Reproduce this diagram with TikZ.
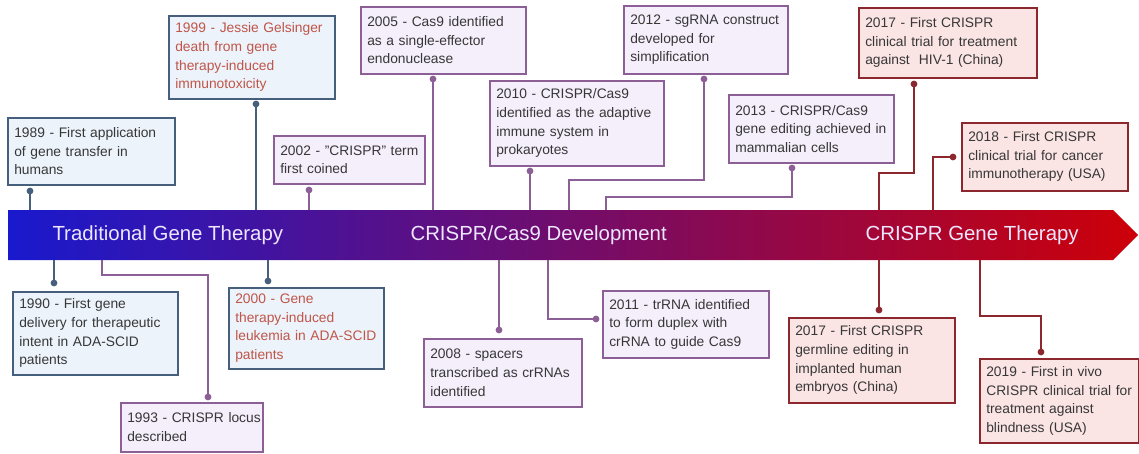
\documentclass[tikz,border=0pt]{standalone}
\usepackage{fontspec}
\setmainfont{Liberation Sans}
\definecolor{bfill}{RGB}{236,243,251}
\definecolor{bline}{RGB}{70,95,125}
\definecolor{pfill}{RGB}{245,238,251}
\definecolor{pline}{RGB}{140,95,150}
\definecolor{rfill}{RGB}{251,228,228}
\definecolor{rline}{RGB}{140,40,45}
\definecolor{redtxt}{RGB}{192,85,72}
\definecolor{txt}{RGB}{55,55,55}
\definecolor{bartxt}{RGB}{238,230,255}
\definecolor{gleft}{RGB}{25,25,205}
\definecolor{gmid}{RGB}{118,35,152}
\definecolor{gright}{RGB}{205,0,8}
\tikzset{
  evbox/.style={draw, line width=1.6pt, rectangle, inner xsep=6.5pt, inner ysep=4pt,
    anchor=north west, align=left, text=txt,
    font=\fontsize{13.8}{18.6}\selectfont},
  bluebox/.style={evbox, fill=bfill, draw=bline},
  purplebox/.style={evbox, fill=pfill, draw=pline},
  redbox/.style={evbox, fill=rfill, draw=rline},
  sz/.code 2 args={\pgfmathsetlengthmacro\mytw{#1pt-13pt}%
    \tikzset{minimum width=#1pt, minimum height=#2pt, text width=\mytw}},
  bcon/.style={draw=bline, line width=1.7pt},
  pcon/.style={draw=pline, line width=1.7pt},
  rcon/.style={draw=rline, line width=1.7pt},
  bartitle/.style={text=bartxt, font=\fontsize{20.4}{24}\selectfont, anchor=west},
}
\begin{document}
\begin{tikzpicture}[x=1pt,y=-1pt]
\useasboundingbox (0,0) rectangle (1139,453);
\fill[white] (0,0) rectangle (1139,453);
% timeline bar
\shade[left color=gleft, middle color=gmid, right color=gright]
  (8,210) -- (1113,210) -- (1138,235) -- (1113,260) -- (8,260) -- cycle;
\coordinate (bartop) at (0,210);
\coordinate (barbot) at (0,260);
\node[bartitle] (t1) at (49,235) {Traditional Gene Therapy};
\node[bartitle] (t2) at (407,235) {CRISPR/Cas9 Development};
\node[bartitle] (t3) at (862,235) {CRISPR Gene Therapy};

% top boxes
\node[bluebox, sz={167}{67}] (e1989) at (7,117) {\mbox{1989 - First application}\\of gene transfer in\\humans};
\node[bluebox, sz={166}{83}, text=redtxt] (e1999) at (168,15) {\mbox{1999 - Jessie Gelsinger}\\death from gene\\therapy-induced\\immunotoxicity};
\node[purplebox, sz={151}{48}] (e2002) at (273,135) {\mbox{2002 - "CRISPR" term}\\first coined};
\node[purplebox, sz={165}{67}] (e2005) at (360,6) {\mbox{2005 - Cas9 identified}\\as a single-effector\\endonuclease};
\node[purplebox, sz={174}{85}] (e2010) at (489,80) {2010 - CRISPR/Cas9\\\mbox{identified as the adaptive}\\immune system in\\prokaryotes};
\node[purplebox, sz={164}{68}] (e2012) at (623,5) {\mbox{2012 - sgRNA construct}\\developed for\\simplification};
\node[purplebox, sz={165}{68}] (e2013) at (728,94) {2013 - CRISPR/Cas9\\\mbox{gene editing achieved in}\\mammalian cells};
\node[redbox, sz={178}{70}] (e2017a) at (858,7) {2017 - First CRISPR\\\mbox{clinical trial for treatment}\\against \ HIV-1 (China)};
\node[redbox, sz={166}{68}] (e2018) at (961,122) {2018 - First CRISPR\\\mbox{clinical trial for cancer}\\\mbox{immunotherapy (USA)}};

% bottom boxes
\node[bluebox, sz={165}{83}] (e1990) at (12,291) {1990 - First gene\\\mbox{delivery for therapeutic}\\intent in ADA-SCID\\patients};
\node[purplebox, sz={142}{49}] (e1993) at (120,402) {\mbox{1993 - CRISPR locus}\\described};
\node[bluebox, sz={155}{81}, text=redtxt] (e2000) at (228,287) {2000 - Gene\\therapy-induced\\\mbox{leukemia in ADA-SCID}\\patients};
\node[purplebox, sz={158}{68}] (e2008) at (423,338) {2008 - spacers\\\mbox{transcribed as crRNAs}\\identified};
\node[purplebox, sz={166}{67}] (e2011) at (602,290) {\mbox{2011 - trRNA identified}\\to form duplex with\\\mbox{crRNA to guide Cas9}};
\node[redbox, sz={166}{85}] (e2017b) at (788,317) {2017 - First CRISPR\\germline editing in\\implanted human\\embryos (China)};
\node[redbox, sz={159}{84}] (e2019) at (979,358) {2019 - First in vivo\\\mbox{CRISPR clinical trial for}\\treatment against\\blindness (USA)};

% connector dots
\coordinate (d1989) at (30,191);
\coordinate (d1999) at (256,104);
\coordinate (d2002) at (309,190);
\coordinate (d2005) at (433,79);
\coordinate (d2010) at (530,171);
\coordinate (d2012) at (704,79);
\coordinate (d2013) at (792,168);
\coordinate (d2017a) at (914,84);
\coordinate (d2018) at (953,157);
\coordinate (d1990) at (54,283);
\coordinate (d1993) at (208,397);
\coordinate (d2000) at (268,281);
\coordinate (d2008) at (499,330);
\coordinate (d2011) at (596,319);
\coordinate (d2017b) at (879,310);
\coordinate (d2019) at (1041,352);

% top connectors
\draw[bcon] (d1989) -- (d1989 |- bartop);
\draw[bcon] (d1999) -- (d1999 |- bartop);
\draw[pcon] (d2002) -- (d2002 |- bartop);
\draw[pcon] (d2005) -- (d2005 |- bartop);
\draw[pcon] (d2010) -- (d2010 |- bartop);
\draw[pcon] (d2012) -- ++(0,101) -| (569,210);
\draw[pcon] (d2013) -- ++(0,29) -| (606,210);
\draw[rcon] (d2017a) -- ++(0,89) -| (879,210);
\draw[rcon] (d2018) -- ++(-20,0) -- (933,210);
% bottom connectors
\draw[bcon] (d1990 |- barbot) -- (d1990);
\draw[pcon] (102,260) |- (208,275) -- (d1993);
\draw[bcon] (d2000 |- barbot) -- (d2000);
\draw[pcon] (d2008 |- barbot) -- (d2008);
\draw[pcon] (548,260) |- (d2011);
\draw[rcon] (d2017b |- barbot) -- (d2017b);
\draw[rcon] (980,260) |- (1041,316) -- (d2019);

% dots
\foreach \d in {d1989,d1999,d1990,d2000} \fill[bline] (\d) circle (3.4pt);
\foreach \d in {d2002,d2005,d2010,d2012,d2013,d1993,d2008,d2011} \fill[pline] (\d) circle (3.4pt);
\foreach \d in {d2017a,d2018,d2017b,d2019} \fill[rline] (\d) circle (3.4pt);
\end{tikzpicture}
\end{document}
